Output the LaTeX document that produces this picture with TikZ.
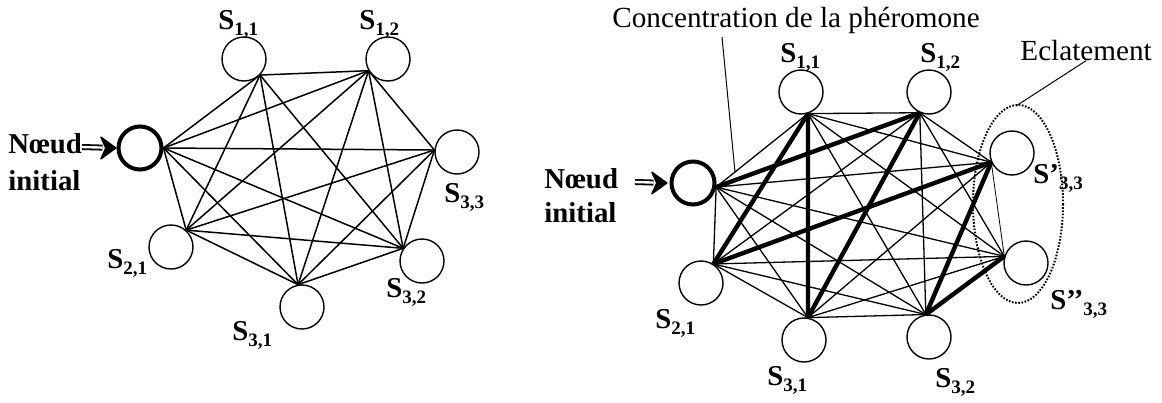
\documentclass[tikz,border=0pt]{standalone}
\usepackage{fontspec}
\setmainfont{Liberation Serif}
\usetikzlibrary{arrows.meta}

\newcommand{\sname}[2][]{\textbf{S#1}\raisebox{-3.2pt}{\fontsize{9.5}{9.5}\selectfont\bfseries #2}}

\begin{document}
\begin{tikzpicture}[x=0.5pt,y=-0.5pt,
  state/.style={draw,circle,line width=0.7pt,minimum size=22pt,inner sep=0pt},
  start/.style={draw,circle,line width=2pt,minimum size=21.5pt,inner sep=0pt},
  lab/.style={font=\fontsize{14.4}{18}\selectfont\bfseries,inner sep=0pt,anchor=base west},
  txt/.style={font=\fontsize{14.6}{18}\selectfont,inner sep=0pt,anchor=base west},
  impl/.style={double,double distance=1.2pt,line width=0.9pt,shorten >=7pt},
  impltip/.style={line width=0.8pt,-{Stealth[length=9pt,width=13pt,inset=3pt,round]}},
  edge/.style={line width=0.75pt},
  redge/.style={line width=0.65pt},
  heavy/.style={line width=2.2pt}]
\useasboundingbox (0,0) rectangle (1162,402);
% left graph
\node[start] (li) at (140,148) {};
\node[state] (l11) at (244,59) {};
\node[state] (l12) at (388,59) {};
\node[state] (l33) at (457,152) {};
\node[state] (l32) at (422,261) {};
\node[state] (l31) at (302,307) {};
\node[state] (l21) at (171,247) {};
\coordinate (a0) at (li.0);
\coordinate (a1) at (l11.-45);
\coordinate (a2) at (l12.-149);
\coordinate (a3) at (l33.175);
\coordinate (a4) at (l32.146);
\coordinate (a5) at (l31.100);
\coordinate (a6) at (l21.48);
\foreach \u/\v in {0/1,0/2,0/3,0/4,0/5,0/6,1/2,1/4,1/5,1/6,2/3,2/4,2/5,2/6,
                   3/4,3/5,3/6,4/5,4/6,5/6}
  \draw[edge] (a\u) -- (a\v);
\node[lab] (ln1) at (8,153) {Nœud};
\node[lab] (ln2) at (8,190) {initial};
\coordinate (la) at (82,147);
\draw[impl] (la) -- (li.west);
\draw[impltip] ([xshift=-2pt]li.west) -- (li.west);
\node[lab] at (218,29) {\sname{1,1}};
\node[lab] at (359,29) {\sname{1,2}};
\node[lab] at (444,202) {\sname{3,3}};
\node[lab] at (107,268) {\sname{2,1}};
\node[lab] at (386,297) {\sname{3,2}};
\node[lab] at (232,340) {\sname{3,1}};
% right graph
\node[start] (ri) at (693,183) {};
\node[state] (r11) at (801,92) {};
\node[state] (r12) at (929,92) {};
\node[state] (ra) at (1012,153) {};
\node[state] (rb) at (1026,263) {};
\node[state] (r32) at (929,337) {};
\node[state] (r31) at (804,340) {};
\node[state] (r21) at (701,283) {};
\coordinate (b0) at (ri.-10);
\coordinate (b1) at (r11.-72);
\coordinate (b2) at (r12.-114);
\coordinate (b3) at (ra.204);
\coordinate (b4) at (rb.163);
\coordinate (b5) at (r32.98);
\coordinate (b6) at (r31.80);
\coordinate (b7) at (r21.57);
\foreach \u/\v in {0/1,0/2,0/3,0/4,0/5,0/6,0/7,1/2,1/3,1/4,1/5,1/6,1/7,
                   2/3,2/4,2/5,2/6,2/7,3/5,3/6,3/7,4/5,4/6,4/7,5/6,5/7,6/7}
  \draw[redge] (b\u) -- (b\v);
\draw[line width=0.4pt] (b3) -- (b4);
\foreach \u/\v in {0/2,1/7,1/6,2/6,7/3,3/5,4/5}
  \draw[heavy] (b\u) -- (b\v);
\node[lab] (rn1) at (544,188) {Nœud};
\node[lab] (rn2) at (544,222) {initial};
\coordinate (ra0) at (635,182);
\draw[impl] (ra0) -- ([xshift=-1pt]ri.west);
\draw[impltip] ([xshift=-3pt]ri.west) -- ([xshift=-1pt]ri.west);
\node[lab] at (780,62) {\sname{1,1}};
\node[lab] at (920,62) {\sname{1,2}};
\node[lab] at (1033,183) {\sname[’]{3,3}};
\node[lab] at (1050,309) {\sname[’’]{3,3}};
\node[lab] at (655,328) {\sname{2,1}};
\node[lab] at (767,385) {\sname{3,1}};
\node[lab] at (935,387) {\sname{3,2}};
% annotations
\node[txt] (conc) at (612,27) {Concentration de la phéromone};
\coordinate (c1) at (722,37);
\coordinate (c2) at (735,172);
\draw[line width=0.5pt] (c1) -- (c2);
\draw[line width=1pt,dash pattern=on 0.8pt off 0.8pt] (1018,204) ellipse [x radius=45,y radius=99];
\node[txt] (ecl) at (1020,60) {Eclatement};
\coordinate (e1) at (1016,106);
\draw[line width=0.5pt] (ecl.south) -- (e1);
\end{tikzpicture}
\end{document}
